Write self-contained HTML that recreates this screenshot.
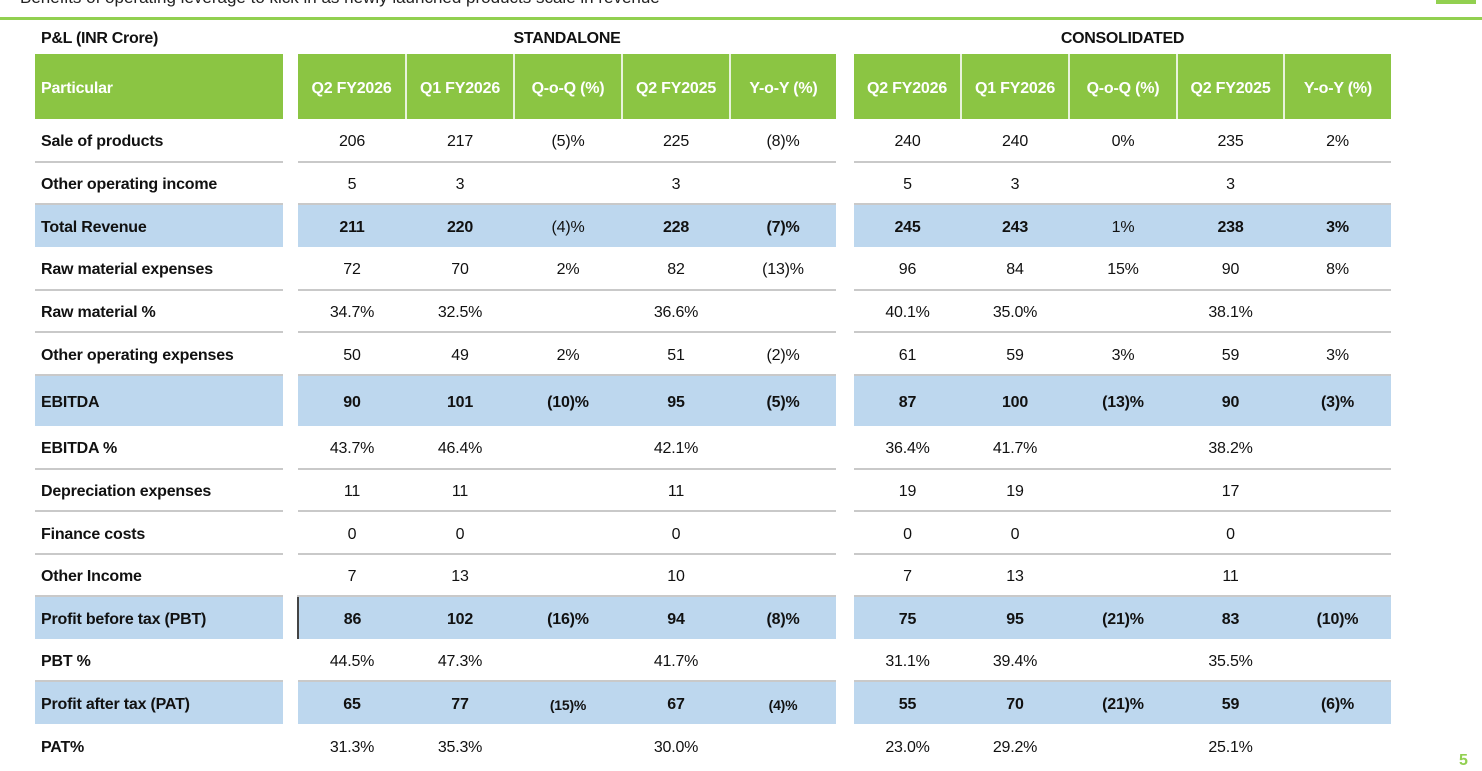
<!DOCTYPE html>
<html><head><meta charset="utf-8"><style>
body{margin:0;width:1482px;height:771px;background:#fff;position:relative;overflow:hidden;font-family:"Liberation Sans",Arial,sans-serif;color:#111}
.top{position:absolute;left:20px;top:-12px;font-size:17px;color:#222;white-space:nowrap}
.gl{position:absolute;left:0;top:17px;width:1482px;height:3px;background:#92d050}
.gb{position:absolute;left:1436px;top:0;width:40px;height:4px;background:#92d050}
.t{position:absolute;top:30px;font-weight:bold;font-size:16px;letter-spacing:-0.3px}
table{position:absolute;left:35px;top:54px;border-collapse:collapse;table-layout:fixed}
td{padding:4px 0 0 0;font-size:16px;text-align:center;box-sizing:border-box;white-space:nowrap;letter-spacing:-0.2px}
td.l{text-align:left;padding-left:6px;font-weight:bold}
td.g{background:#fff!important;border:none!important}
tr.h td{background:#8bc543;color:#fff;font-weight:bold;border-left:2px solid #e8f3dc}
tr.h td.l,tr.h td.f{border-left:none}
tr.w td{border-bottom:2px solid #c9c9c9}
tr.b td{background:#bdd7ee;font-weight:bold}
.n{font-weight:normal!important}
.pn{position:absolute;left:1459px;top:752px;color:#92d050;font-weight:bold;font-size:16px}
</style></head><body>
<div class="top">Benefits of operating leverage to kick in as newly launched products scale in revenue</div>
<div class="gl"></div><div class="gb"></div>
<div class="t" style="left:41px">P&amp;L (INR Crore)</div>
<div class="t" style="left:298px;width:538px;text-align:center">STANDALONE</div>
<div class="t" style="left:854px;width:537px;text-align:center">CONSOLIDATED</div>
<table>
<colgroup><col style="width:248px"><col style="width:15px"><col style="width:108px"><col style="width:108px"><col style="width:108px"><col style="width:108px"><col style="width:106px"><col style="width:18px"><col style="width:107px"><col style="width:108px"><col style="width:108px"><col style="width:107px"><col style="width:107px"></colgroup>
<tr class="h" style="height:65px"><td class="l">Particular</td><td class="g"></td><td class="f">Q2 FY2026</td><td>Q1 FY2026</td><td>Q-o-Q (%)</td><td>Q2 FY2025</td><td>Y-o-Y (%)</td><td class="g"></td><td class="f">Q2 FY2026</td><td>Q1 FY2026</td><td>Q-o-Q (%)</td><td>Q2 FY2025</td><td>Y-o-Y (%)</td></tr>
<tr class="w" style="height:43px"><td class="l">Sale of products</td><td class="g"></td><td>206</td><td>217</td><td>(5)%</td><td>225</td><td>(8)%</td><td class="g"></td><td>240</td><td>240</td><td>0%</td><td>235</td><td>2%</td></tr>
<tr class="w" style="height:42px"><td class="l">Other operating income</td><td class="g"></td><td>5</td><td>3</td><td></td><td>3</td><td></td><td class="g"></td><td>5</td><td>3</td><td></td><td>3</td><td></td></tr>
<tr class="b" style="height:43px"><td class="l">Total Revenue</td><td class="g"></td><td>211</td><td>220</td><td class="n">(4)%</td><td>228</td><td>(7)%</td><td class="g"></td><td>245</td><td>243</td><td class="n">1%</td><td>238</td><td>3%</td></tr>
<tr class="w" style="height:43px"><td class="l">Raw material expenses</td><td class="g"></td><td>72</td><td>70</td><td>2%</td><td>82</td><td>(13)%</td><td class="g"></td><td>96</td><td>84</td><td>15%</td><td>90</td><td>8%</td></tr>
<tr class="w" style="height:42px"><td class="l">Raw material %</td><td class="g"></td><td>34.7%</td><td>32.5%</td><td></td><td>36.6%</td><td></td><td class="g"></td><td>40.1%</td><td>35.0%</td><td></td><td>38.1%</td><td></td></tr>
<tr class="w" style="height:43px"><td class="l">Other operating expenses</td><td class="g"></td><td>50</td><td>49</td><td>2%</td><td>51</td><td>(2)%</td><td class="g"></td><td>61</td><td>59</td><td>3%</td><td>59</td><td>3%</td></tr>
<tr class="b" style="height:51px"><td class="l">EBITDA</td><td class="g"></td><td>90</td><td>101</td><td>(10)%</td><td>95</td><td>(5)%</td><td class="g"></td><td>87</td><td>100</td><td>(13)%</td><td>90</td><td>(3)%</td></tr>
<tr class="w" style="height:43px"><td class="l">EBITDA %</td><td class="g"></td><td>43.7%</td><td>46.4%</td><td></td><td>42.1%</td><td></td><td class="g"></td><td>36.4%</td><td>41.7%</td><td></td><td>38.2%</td><td></td></tr>
<tr class="w" style="height:42px"><td class="l">Depreciation expenses</td><td class="g"></td><td>11</td><td>11</td><td></td><td>11</td><td></td><td class="g"></td><td>19</td><td>19</td><td></td><td>17</td><td></td></tr>
<tr class="w" style="height:43px"><td class="l">Finance costs</td><td class="g"></td><td>0</td><td>0</td><td></td><td>0</td><td></td><td class="g"></td><td>0</td><td>0</td><td></td><td>0</td><td></td></tr>
<tr class="w" style="height:42px"><td class="l">Other Income</td><td class="g"></td><td>7</td><td>13</td><td></td><td>10</td><td></td><td class="g"></td><td>7</td><td>13</td><td></td><td>11</td><td></td></tr>
<tr class="b" style="height:43px"><td class="l">Profit before tax (PBT)</td><td class="g"></td><td style="border-left:2px solid #444">86</td><td>102</td><td>(16)%</td><td>94</td><td>(8)%</td><td class="g"></td><td>75</td><td>95</td><td>(21)%</td><td>83</td><td>(10)%</td></tr>
<tr class="w" style="height:42px"><td class="l">PBT %</td><td class="g"></td><td>44.5%</td><td>47.3%</td><td></td><td>41.7%</td><td></td><td class="g"></td><td>31.1%</td><td>39.4%</td><td></td><td>35.5%</td><td></td></tr>
<tr class="b" style="height:43px"><td class="l">Profit after tax (PAT)</td><td class="g"></td><td>65</td><td>77</td><td style="font-size:14px">(15)%</td><td>67</td><td style="font-size:14px">(4)%</td><td class="g"></td><td>55</td><td>70</td><td>(21)%</td><td>59</td><td>(6)%</td></tr>
<tr style="height:43px"><td class="l">PAT%</td><td class="g"></td><td>31.3%</td><td>35.3%</td><td></td><td>30.0%</td><td></td><td class="g"></td><td>23.0%</td><td>29.2%</td><td></td><td>25.1%</td><td></td></tr>
</table>
<div class="pn">5</div>
</body></html>
